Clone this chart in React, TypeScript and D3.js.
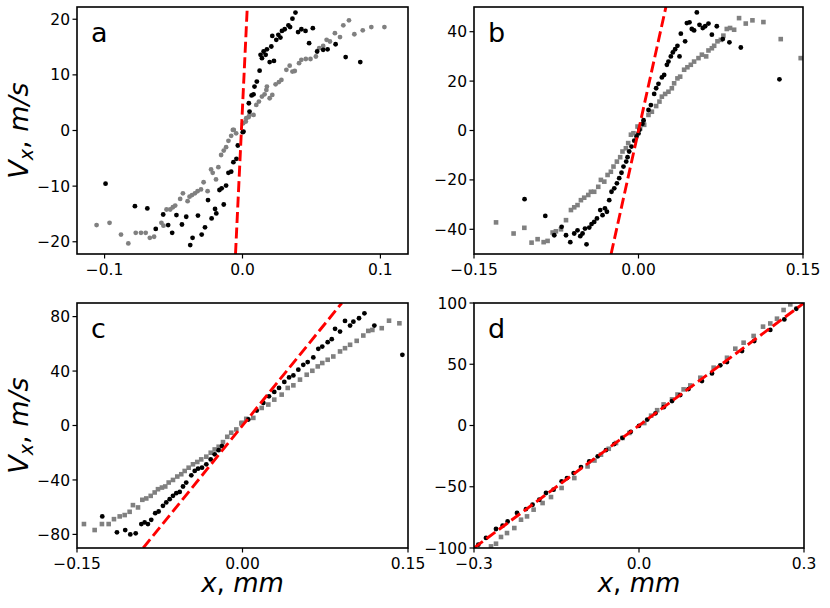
import * as d3 from 'd3'

// panel a
const aBlack: [number, number][] = [
  [-0.0993, -9.55], [-0.078, -13.6], [-0.069, -14.0], [-0.0575, -15.1], [-0.0629, -17.7], [-0.0539, -17.0],
  [-0.051, -18.4], [-0.0479, -15.2], [-0.0439, -16.9], [-0.0408, -15.5], [-0.0379, -20.6], [-0.0362, -19.3],
  [-0.0323, -15.3], [-0.0296, -18.7], [-0.0272, -17.4], [-0.025, -12.5], [-0.0224, -15.8], [-0.0199, -14.1],
  [-0.019, -14.9], [-0.0167, -10.7], [-0.0151, -10.4], [-0.0136, -13.3], [-0.0119, -9.9], [-0.0102, -7.6],
  [-0.0082, -7.4], [-0.0066, -5.7], [-0.0044, -5.1], [-0.0034, -2.7], [0.0002, -0.3], [0.0007, -0.2],
  [0.0051, 3.4], [0.0046, 4.9], [0.0066, 6.3], [0.008, 6.5], [0.0087, 7.9], [0.0104, 8.8], [0.0124, 10.75],
  [0.0131, 13.6], [0.0141, 13.0], [0.0153, 14.2], [0.0168, 13.6], [0.0177, 14.6], [0.0197, 12.3], [0.0209, 15.1],
  [0.0228, 12.5], [0.0216, 17.0], [0.0245, 16.3], [0.026, 17.2], [0.0275, 16.7], [0.0286, 17.9], [0.0306, 18.2],
  [0.0333, 18.9], [0.0345, 18.6], [0.0362, 20.1], [0.0384, 21.2], [0.0403, 17.7], [0.0427, 18.2], [0.0457, 17.9],
  [0.051, 18.4], [0.0483, 15.7], [0.0541, 14.2], [0.0585, 14.5], [0.0617, 14.6], [0.0675, 15.5], [0.0748, 13.2],
  [0.0854, 12.3],
]
const aGray: [number, number][] = [
  [-0.1058, -17.0], [-0.0964, -16.6], [-0.0881, -18.7], [-0.0828, -20.3], [-0.0774, -18.4], [-0.0736, -18.4],
  [-0.0702, -18.4], [-0.0672, -19.3], [-0.0641, -19.1], [-0.0588, -16.6], [-0.0573, -17.1], [-0.0551, -14.2],
  [-0.0524, -14.2], [-0.0505, -13.8], [-0.0488, -13.5], [-0.0452, -12.3], [-0.0432, -11.3], [-0.0398, -12.7],
  [-0.0384, -11.9], [-0.0366, -11.6], [-0.0345, -11.3], [-0.0326, -10.9], [-0.0301, -10.6], [-0.0282, -9.3],
  [-0.0253, -10.9], [-0.0228, -7.0], [-0.0216, -7.6], [-0.0192, -8.8], [-0.0175, -6.6], [-0.0155, -4.4],
  [-0.0136, -3.6], [-0.0119, -3.0], [-0.0102, -1.85], [-0.0082, -0.95], [-0.007, 0.1], [-0.0063, 0.1],
  [-0.0046, -0.5], [0.0005, 1.3], [0.0024, 1.6], [0.0044, 2.4], [0.0027, 2.2], [0.0051, 2.8], [0.008, 2.8],
  [0.01, 4.6], [0.0119, 5.2], [0.0141, 6.1], [0.016, 6.5], [0.0173, 7.3], [0.0197, 5.8], [0.0216, 6.4],
  [0.0177, 7.9], [0.024, 8.3], [0.0264, 8.7], [0.0282, 9.1], [0.0318, 10.9], [0.0342, 11.65], [0.0362, 10.6],
  [0.0379, 10.7], [0.041, 12.1], [0.0427, 12.7], [0.0459, 12.85], [0.0493, 12.85], [0.0532, 13.3], [0.0556, 14.8],
  [0.0585, 15.2], [0.061, 16.3], [0.0634, 16.0], [0.067, 17.5], [0.0707, 16.8], [0.0731, 18.9], [0.0772, 19.8],
  [0.0811, 17.3], [0.0872, 18.0], [0.0934, 18.6], [0.1029, 18.6],
]

// panel b
const bBlack: [number, number][] = [
  [-0.1039, -27.8], [-0.085, -34.6], [-0.0768, -42.4], [-0.0701, -39.0], [-0.0661, -42.4], [-0.0622, -45.2],
  [-0.0586, -41.7], [-0.0556, -40.4], [-0.0531, -42.8], [-0.051, -41.7], [-0.0474, -46.1], [-0.0488, -39.7],
  [-0.0449, -39.3], [-0.0428, -37.9], [-0.0404, -37.0], [-0.0379, -35.6], [-0.0349, -32.2], [-0.0328, -34.3],
  [-0.0306, -31.5], [-0.0288, -32.9], [-0.0267, -28.2], [-0.0246, -24.8], [-0.0221, -23.4], [-0.0197, -21.4],
  [-0.0176, -19.3], [-0.0155, -17.1], [-0.0137, -14.6], [-0.0112, -12.6], [-0.01, -10.8], [-0.0085, -8.5],
  [-0.0064, -6.5], [-0.0039, -4.1], [-0.0018, -2.4], [0.0, -1.2], [0.0009, 0.3], [0.0036, 2.7], [0.0046, 4.2],
  [0.0091, 8.3], [0.0113, 10.3], [0.0143, 14.8], [0.0161, 17.1], [0.0182, 18.9], [0.0213, 21.5], [0.0234, 22.5],
  [0.0259, 26.6], [0.0273, 27.9], [0.0295, 30.0], [0.0313, 31.6], [0.0334, 32.9], [0.0355, 34.3], [0.0374, 30.0],
  [0.0386, 39.2], [0.0425, 36.1], [0.0441, 43.5], [0.0465, 43.8], [0.0486, 41.1], [0.0507, 40.5], [0.0532, 47.8],
  [0.0556, 42.8], [0.0586, 41.5], [0.0608, 42.2], [0.0638, 43.3], [0.0669, 38.8], [0.0714, 42.2], [0.0769, 37.0],
  [0.0829, 35.7], [0.0933, 33.6], [0.1285, 20.7],
]
const bGray: [number, number][] = [
  [-0.1299, -37.2], [-0.1139, -41.7], [-0.1041, -39.4], [-0.0975, -45.4], [-0.092, -44.0], [-0.0865, -45.2],
  [-0.0829, -44.7], [-0.0783, -41.3], [-0.0753, -40.8], [-0.0707, -40.0], [-0.0661, -36.3], [-0.0616, -32.2],
  [-0.0586, -31.1], [-0.0556, -30.2], [-0.0525, -28.2], [-0.0495, -27.2], [-0.0458, -26.1], [-0.0434, -24.8],
  [-0.0404, -24.8], [-0.0367, -22.8], [-0.0343, -20.0], [-0.0312, -20.7], [-0.0282, -18.0], [-0.0252, -16.7],
  [-0.0228, -14.6], [-0.0197, -12.6], [-0.0167, -10.8], [-0.0146, -8.5], [-0.0115, -7.2], [-0.0094, -5.1],
  [-0.0069, -1.7], [-0.0046, -1.1], [-0.0009, 1.6], [0.0015, 0.8], [0.0046, 3.1], [0.0052, 2.3], [0.0091, 6.3],
  [0.0122, 7.6], [0.0161, 9.9], [0.0191, 11.7], [0.0213, 13.7], [0.0243, 14.8], [0.0273, 15.7], [0.0304, 17.1],
  [0.0325, 19.1], [0.0355, 21.1], [0.038, 21.8], [0.0416, 24.6], [0.0446, 25.6], [0.0477, 26.6], [0.0507, 27.9],
  [0.0547, 29.3], [0.0578, 30.7], [0.0617, 30.0], [0.0638, 32.4], [0.0669, 33.3], [0.069, 34.3], [0.072, 36.1],
  [0.0751, 36.7], [0.0774, 38.4], [0.0805, 41.1], [0.0835, 41.5], [0.0872, 40.8], [0.0917, 45.5], [0.0978, 43.3],
  [0.1039, 44.6], [0.1139, 43.9], [0.1297, 37.0], [0.1479, 29.3],
]

// panel c
const cBlack: [number, number][] = [
  [-0.1271, -66.8], [-0.1138, -78.5], [-0.1063, -76.8], [-0.1017, -80.0], [-0.0968, -79.2], [-0.0917, -72.4],
  [-0.0887, -71.2], [-0.0857, -72.4], [-0.0827, -69.3], [-0.0791, -64.4], [-0.076, -63.2], [-0.0721, -59.0],
  [-0.0691, -56.5], [-0.066, -54.1], [-0.063, -51.7], [-0.06, -49.7], [-0.0569, -48.8], [-0.0539, -44.8],
  [-0.051, -41.9], [-0.0464, -36.6], [-0.0433, -33.4], [-0.0403, -31.7], [-0.0367, -31.0], [-0.0328, -28.5],
  [-0.0288, -24.9], [-0.0252, -21.2], [-0.0216, -18.1], [-0.0186, -15.1], [0.0053, 4.4], [0.0129, 11.0],
  [0.0189, 16.6], [0.024, 21.4], [0.0288, 24.7], [0.0331, 27.6], [0.0379, 32.0], [0.0422, 35.3], [0.0461, 36.8],
  [0.0506, 41.0], [0.0551, 44.6], [0.0591, 46.6], [0.0642, 50.0], [0.0687, 56.3], [0.0723, 58.0], [0.0772, 61.2],
  [0.0809, 63.4], [0.0839, 71.0], [0.0884, 69.0], [0.0929, 76.8], [0.0975, 73.4], [0.1005, 76.3], [0.1056, 78.8],
  [0.1105, 82.4], [0.1195, 73.4], [0.1449, 51.9],
]
const cGray: [number, number][] = [
  [-0.1437, -72.4], [-0.134, -76.8], [-0.1274, -72.4], [-0.1213, -72.4], [-0.1165, -68.8], [-0.1113, -66.8],
  [-0.1068, -65.8], [-0.1023, -63.4], [-0.0993, -58.5], [-0.0947, -60.2], [-0.0908, -54.6], [-0.0872, -53.6],
  [-0.0832, -51.7], [-0.0796, -49.2], [-0.0766, -46.8], [-0.073, -45.6], [-0.07, -44.8], [-0.0669, -41.9],
  [-0.063, -40.0], [-0.0591, -37.5], [-0.0555, -35.8], [-0.0524, -33.4], [-0.0488, -31.0], [-0.0449, -28.5],
  [-0.041, -26.8], [-0.0374, -24.9], [-0.0328, -22.9], [-0.0288, -20.0], [-0.0252, -17.6], [-0.0216, -15.6],
  [-0.0177, -12.2], [-0.0138, -8.3], [-0.0102, -5.3], [-0.0056, -2.9], [-0.0011, 1.5], [-0.0007, 2.0],
  [0.0034, 4.9], [0.0098, 5.6], [0.0174, 12.9], [0.0234, 15.4], [0.0288, 19.0], [0.0355, 22.7], [0.041, 27.6],
  [0.0461, 29.5], [0.0521, 33.7], [0.0582, 37.3], [0.0633, 40.2], [0.0682, 43.4], [0.0723, 45.9], [0.0772, 48.3],
  [0.0823, 50.7], [0.0884, 54.4], [0.0929, 56.8], [0.0975, 59.3], [0.1035, 62.2], [0.1095, 66.1], [0.114, 69.5],
  [0.1177, 70.2], [0.1262, 71.5], [0.1328, 77.0], [0.1422, 75.1],
]

// panel d
const dBlack: [number, number][] = [
  [-0.2922, -97.3], [-0.2782, -91.8], [-0.26, -84.5], [-0.248, -81.8], [-0.2389, -78.3], [-0.2218, -71.4],
  [-0.2055, -68.2], [-0.1935, -64.7], [-0.1813, -60.6], [-0.1691, -55.1], [-0.1553, -52.4], [-0.1407, -45.6],
  [-0.1309, -42.9], [-0.1189, -38.8], [-0.1055, -33.9], [-0.0904, -29.3], [-0.075, -25.2], [-0.06, -20.1],
  [-0.045, -15.2], [-0.03, -10.1], [-0.015, -5.2], [0.0, -0.3], [0.015, 4.8], [0.03, 9.9], [0.045, 15.0],
  [0.06, 19.9], [0.075, 24.8], [0.09, 29.7], [0.1145, 36.3], [0.1327, 42.5], [0.1478, 49.1], [0.16, 51.8],
  [0.1873, 60.8], [0.2096, 69.0], [0.2387, 78.0], [0.2642, 86.6], [0.286, 95.3],
]
const dGray: [number, number][] = [
  [-0.2691, -98.7], [-0.26, -96.5], [-0.2509, -91.0], [-0.24, -87.8], [-0.2267, -83.7], [-0.2145, -76.9],
  [-0.2036, -74.2], [-0.1916, -68.7], [-0.1753, -63.3], [-0.16, -58.4], [-0.1407, -51.0], [-0.1176, -42.9],
  [-0.0935, -33.4], [-0.081, -28.6], [-0.0691, -23.8], [-0.055, -19.0], [-0.0418, -14.3], [-0.03, -10.2],
  [-0.0176, -6.1], [0.0096, 2.0], [0.022, 8.0], [0.033, 12.5], [0.0447, 17.2], [0.06, 21.3], [0.07, 25.3],
  [0.0811, 29.5], [0.0933, 32.7], [0.1115, 39.0], [0.1357, 47.2], [0.16, 55.3], [0.1751, 62.7], [0.1902, 67.6],
  [0.2084, 73.1], [0.2255, 80.7], [0.2387, 83.3], [0.2509, 87.2], [0.2629, 94.3], [0.2751, 98.9], [0.29, 102],
]

// red dashed fits: V = k * (x - x0)
const fitSlopes = [5200, 2000, 1000, 333.3]
const fitOffsets = [-0.0008, 0, 0, 0]

const panelLetters = ['a', 'b', 'c', 'd']
const xDomains: [number, number][] = [[-0.12, 0.12], [-0.15, 0.15], [-0.15, 0.15], [-0.3, 0.3]]
const yDomains: [number, number][] = [[-22.2, 22.2], [-50, 50], [-90, 90], [-100, 100]]
const xTickVals = [[-0.1, 0, 0.1], [-0.15, 0, 0.15], [-0.15, 0, 0.15], [-0.3, 0, 0.3]]
const xTickFmt = ['.1f', '.2f', '.2f', '.1f']
const yTickVals = [[-20, -10, 0, 10, 20], [-40, -20, 0, 20, 40], [-80, -40, 0, 40, 80], [-100, -50, 0, 50, 100]]

const blacks = [aBlack, bBlack, cBlack, dBlack]
const grays = [aGray, bGray, cGray, dGray]

// layout (pixel boxes)
const boxes = [
  { l: 77, t: 7, r: 408, b: 254 },
  { l: 474, t: 7, r: 803, b: 254 },
  { l: 77, t: 303, r: 408, b: 548 },
  { l: 474, t: 303, r: 804, b: 548 },
]

const FONT = 'DejaVu Sans, sans-serif'
const GRAY = '#808080'
const TICK_FS = 15.5

function Panel({ i }: { i: number }) {
  const box = boxes[i]
  const x = d3.scaleLinear().domain(xDomains[i]).range([box.l, box.r])
  const y = d3.scaleLinear().domain(yDomains[i]).range([box.b, box.t])
  const fmt = d3.format(xTickFmt[i])
  const k = fitSlopes[i]
  const x0 = fitOffsets[i]
  const [y0, y1] = yDomains[i]
  const line = d3.line<number>().x(v => x(v / k + x0)).y(v => y(v))
  const clipId = `clip-${i}`
  return (
    <g>
      <defs>
        <clipPath id={clipId}>
          <rect x={box.l} y={box.t} width={box.r - box.l} height={box.b - box.t} />
        </clipPath>
      </defs>
      <g clipPath={`url(#${clipId})`}>
        {grays[i].map((d, j) =>
          i === 0 ? (
            <circle key={j} cx={x(d[0])} cy={y(d[1])} r={2.4} fill={GRAY} />
          ) : (
            <rect key={j} x={x(d[0]) - 2.3} y={y(d[1]) - 2.3} width={4.6} height={4.6} fill={GRAY} />
          )
        )}
        {blacks[i].map((d, j) => (
          <circle key={j} cx={x(d[0])} cy={y(d[1])} r={2.4} fill="#000" />
        ))}
        <path d={line([y0, y1]) || ''} fill="none" stroke="#ff0000" strokeWidth={2.9} strokeDasharray="11,4.5" />
      </g>
      <rect x={box.l} y={box.t} width={box.r - box.l} height={box.b - box.t} fill="none" stroke="#000" strokeWidth={1.6} />
      {xTickVals[i].map(v => (
        <g key={v}>
          <line x1={x(v)} x2={x(v)} y1={box.b} y2={box.b + 4.5} stroke="#000" strokeWidth={1.2} />
          <text x={x(v)} y={box.b + 20.5} textAnchor="middle" fontSize={TICK_FS} fontFamily={FONT}>{fmt(v)}</text>
        </g>
      ))}
      {yTickVals[i].map(v => (
        <g key={v}>
          <line x1={box.l - 4.5} x2={box.l} y1={y(v)} y2={y(v)} stroke="#000" strokeWidth={1.2} />
          <text x={box.l - 7} y={y(v)} dy="0.36em" textAnchor="end" fontSize={TICK_FS} fontFamily={FONT}>{d3.format('d')(v)}</text>
        </g>
      ))}
      <text x={box.l + 14} y={box.t + 35} fontSize={27} fontFamily={FONT}>{panelLetters[i]}</text>
      {i % 2 === 0 && (
        <text transform={`translate(28,${(box.t + box.b) / 2}) rotate(-90)`} textAnchor="middle" fontSize={27} fontFamily={FONT}>
          <tspan fontStyle="italic">V</tspan>
          <tspan fontStyle="italic" fontSize={19} dy={5}>x</tspan>
          <tspan dy={-5}>,  </tspan>
          <tspan fontStyle="italic">m/s</tspan>
        </text>
      )}
      {i >= 2 && (
        <text x={(box.l + box.r) / 2} y={592} textAnchor="middle" fontSize={26} fontFamily={FONT}>
          <tspan fontStyle="italic">x</tspan>
          <tspan>,  </tspan>
          <tspan fontStyle="italic">mm</tspan>
        </text>
      )}
    </g>
  )
}

export default function App() {
  return (
    <svg width={830} height={608} style={{ position: 'absolute', left: 0, top: 0, background: '#fff' }}>
      <rect width={830} height={608} fill="#fff" />
      {[0, 1, 2, 3].map(i => <Panel key={i} i={i} />)}
    </svg>
  )
}
